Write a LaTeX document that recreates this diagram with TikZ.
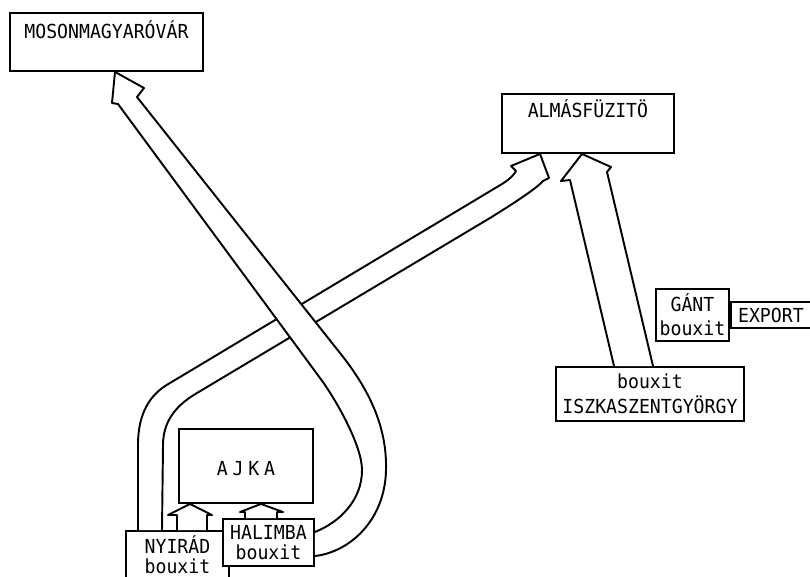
\documentclass[tikz,border=0pt]{standalone}
\usepackage{fontspec}
\usepackage{tikz}
\usetikzlibrary{positioning, calc}
\newfontfamily\stencil[FakeStretch=0.94]{DejaVu Sans Mono}
\tikzstyle{block}=[draw,fill=white,rectangle,inner sep=0pt,line width=1.1pt]
\tikzstyle{every node}=[font=\stencil\fontsize{11}{11.4}\selectfont]
\tikzstyle{flow}=[draw,fill=white,line width=1.1pt,line join=round]

\begin{document}
\begin{tikzpicture}[x=0.02cm,y=-0.02cm]
    \useasboundingbox (0,0) rectangle (810,576);
    \node[block, anchor=north west, minimum width=3.86cm, text height=0.52cm, text depth=0.64cm] (moson) at (9,12) {MOSONMAGYARÓVÁR};
    \node[block, anchor=north west, minimum width=3.44cm, text height=0.48cm, text depth=0.70cm] (almas) at (501,93) {ALMÁSFÜZITÖ};
    \node[block, anchor=north west, minimum width=2.68cm, text height=0.94cm, text depth=0.54cm] (ajka) at (178,428) {\addfontfeature{LetterSpace=25}AJKA};
    \node[block, anchor=north west, minimum width=2.06cm, minimum height=0.94cm, align=center] (nyirad) at (125,530) {NYIRÁD\\bouxit};
    \node[block, anchor=north west, minimum width=1.82cm, minimum height=0.94cm, align=center] (halimba) at (222,518) {HALIMBA\\bouxit};
    \node[block, anchor=north west, minimum width=3.76cm, minimum height=1.08cm, align=center] (iszk) at (555,366) {bouxit\\[0.1cm]ISZKASZENTGYÖRGY};
    \node[block, anchor=north west, minimum width=1.46cm, minimum height=1.04cm, align=center] (gant) at (655,288) {GÁNT\\[0.08cm]bouxit};
    \node[block, right=0pt of gant, minimum width=1.6cm, minimum height=0.52cm] (export) {EXPORT};
    % bauxite to Ajka
    \draw[flow] ($(nyirad.north west)+(52,0)$) |- (168,515) -- ($(ajka.south west)+(12,0)$) -- (212,515) -| ($(nyirad.north west)+(82,0)$);
    \draw[flow] ($(halimba.north west)+(23,0)$) |- (240,512) -- ($(ajka.south west)+(83,0)$) -- (283,512) -| ($(halimba.north west)+(55,0)$);
    % Nyirad to Almasfuzito
    \draw[flow] ($(nyirad.north west)+(37,0)$) -- (163,445)
        .. controls (163,418) and (180,403) .. (197,393) -- (490,218)
        .. controls (506,208) and (535,190) .. (543,181) -- (549,178)
        -- ($(almas.south west)+(39,0)$) -- (511,166) -- (516,171)
        .. controls (512,178) and (504,183) .. (497,187) -- (170,383)
        .. controls (150,394) and (138,413) .. (138,445) -- ($(nyirad.north west)+(13,0)$);
    % Halimba to Mosonmagyarovar
    \draw[flow] ($(halimba.north east)+(0,14)$)
        .. controls (340,522) and (362,500) .. (362,470)
        .. controls (362,445) and (335,398) .. (320,378) -- (118,104) -- (112,103)
        -- ($(moson.south west)+(106,0)$) -- (144,88) -- (137,97) -- (340,353)
        .. controls (372,393) and (387,430) .. (386,470)
        .. controls (385,520) and (350,552) .. ($(halimba.north east)+(0,38)$);
    % Iszkaszentgyorgy to Almasfuzito
    \draw[flow] ($(iszk.north west)+(59,0)$) -- (570,180) -- (561,181)
        -- ($(almas.south west)+(81,0)$) -- (611,167) -- (607,172) -- ($(iszk.north west)+(98,0)$);
\end{tikzpicture}
\end{document}
